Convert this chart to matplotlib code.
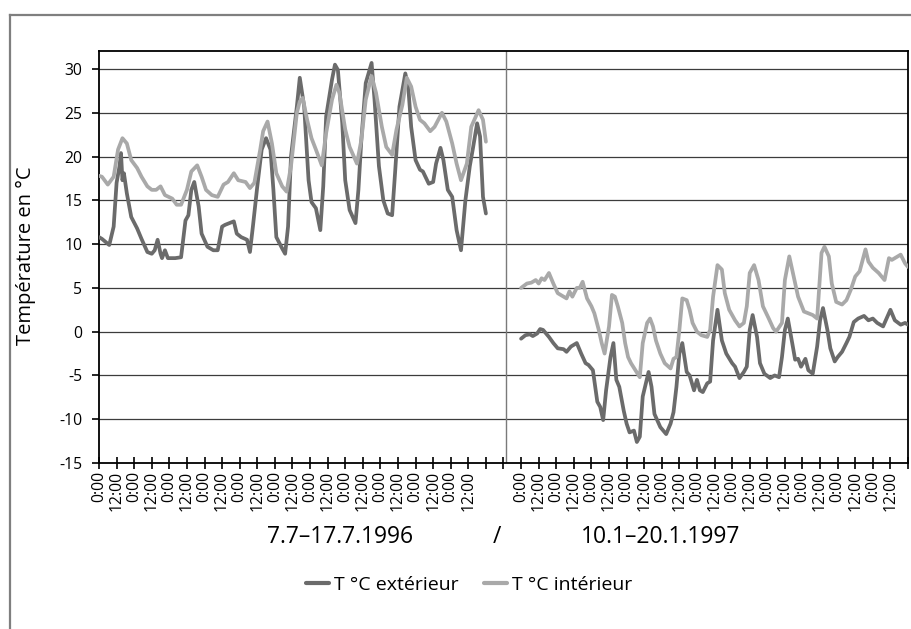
import numpy as np
import matplotlib
matplotlib.use("Agg")
import matplotlib.pyplot as plt
from matplotlib.lines import Line2D

plt.rcParams['font.family'] = ['Open Sans', 'DejaVu Sans']

# hours counted from 7.7.1996 0:00 on a continuous axis (1997 block starts at hour 288)
h_ext_96 = [0, 2, 7, 10, 12, 14, 15, 16, 17, 19, 22, 26, 29, 33, 36, 38, 40, 42, 43, 45,
            47, 52, 56, 59, 61, 63, 65, 68, 70, 74, 78, 81, 84, 86, 89, 92, 94, 97, 101, 103,
            105, 108, 111, 114, 117, 119, 121, 125, 127, 129, 131, 135, 137, 140, 143, 145, 148, 151, 153, 155,
            159, 161, 163, 166, 168, 171, 175, 177, 179, 182, 186, 188, 191, 194, 197, 200, 202, 205, 209, 211,
            213, 216, 219, 221, 225, 228, 230, 233, 235, 238, 241, 244, 247, 250, 253, 255, 258, 260, 262, 264]
t_ext_96 = [10.8, 10.6, 9.9, 12.0, 17.0, 18.9, 20.4, 17.3, 18.1, 15.8, 13.1, 11.8, 10.6, 9.1, 8.9, 9.3, 10.5, 8.9, 8.4, 9.3,
            8.4, 8.4, 8.5, 12.7, 13.3, 16.2, 17.1, 14.3, 11.2, 9.7, 9.3, 9.3, 12.0, 12.2, 12.4, 12.6, 11.2, 10.8, 10.5, 9.1,
            12.0, 16.6, 20.8, 22.1, 20.8, 16.2, 10.8, 9.5, 8.9, 12.0, 20.0, 25.7, 29.0, 25.7, 17.3, 14.8, 14.1, 11.6, 16.6, 24.6,
            28.8, 30.5, 29.9, 23.8, 17.3, 13.9, 12.4, 16.2, 21.9, 28.4, 30.7, 26.5, 18.9, 15.0, 13.5, 13.3, 18.1, 25.7, 29.5, 28.0,
            23.4, 19.6, 18.5, 18.3, 16.9, 17.1, 19.2, 21.0, 19.6, 16.2, 15.4, 11.6, 9.3, 15.0, 18.9, 20.8, 23.8, 22.3, 15.4, 13.5]

h_int_96 = [0, 2, 6, 10, 13, 16, 19, 22, 26, 29, 33, 36, 39, 42, 45, 50, 53, 56, 60, 63,
            67, 70, 73, 77, 81, 85, 88, 92, 95, 100, 103, 106, 110, 112, 115, 118, 121, 125, 128, 131,
            135, 137, 139, 142, 145, 148, 152, 155, 159, 162, 164, 168, 171, 176, 179, 182, 186, 189, 193, 196,
            200, 203, 207, 210, 213, 216, 219, 222, 226, 229, 234, 237, 241, 244, 247, 251, 254, 259, 262, 264]
t_int_96 = [17.8, 17.7, 16.8, 17.7, 20.8, 22.1, 21.5, 19.6, 18.7, 17.7, 16.6, 16.2, 16.2, 16.6, 15.6, 15.2, 14.5, 14.5, 16.2, 18.3,
            19.0, 17.7, 16.2, 15.6, 15.4, 16.8, 17.1, 18.1, 17.3, 17.1, 16.4, 17.0, 20.8, 22.9, 24.0, 21.5, 18.1, 16.6, 16.0, 18.9,
            25.0, 26.3, 26.7, 24.2, 22.1, 20.8, 19.0, 22.7, 26.5, 28.2, 27.3, 23.1, 21.1, 19.2, 21.9, 26.5, 29.2, 27.3, 23.4, 21.1,
            20.2, 23.1, 25.9, 29.0, 28.0, 25.7, 24.2, 23.8, 22.9, 23.4, 25.0, 24.0, 21.5, 19.2, 17.3, 19.2, 23.4, 25.3, 24.2, 21.7]

h_ext_97 = [288, 291, 294, 296, 299, 301, 303, 307, 310, 313, 317, 319, 322, 326, 329, 332, 334, 337, 340, 342,
            344, 346, 349, 351, 353, 355, 358, 360, 362, 365, 367, 369, 371, 375, 377, 379, 383, 387, 390, 392,
            394, 396, 398, 401, 403, 406, 408, 410, 412, 415, 417, 419, 422, 425, 428, 432, 434, 437, 440, 442,
            444, 446, 449, 451, 454, 458, 461, 464, 466, 468, 470, 473, 475, 477, 479, 482, 484, 487, 490, 492,
            494, 497, 499, 502, 504, 507, 510, 512, 515, 518, 522, 525, 528, 531, 535, 540, 543, 547, 550, 552]
t_ext_97 = [-0.8, -0.4, -0.3, -0.5, -0.2, 0.3, 0.2, -0.6, -1.3, -1.9, -2.0, -2.3, -1.7, -1.3, -2.5, -3.6, -3.8, -4.4, -8.0, -8.6,
            -10.1, -6.7, -2.9, -1.3, -5.5, -6.3, -9.0, -10.5, -11.5, -11.3, -12.6, -12.0, -7.4, -4.6, -6.3, -9.4, -10.9, -11.7, -10.5, -9.2,
            -6.3, -2.5, -1.3, -4.6, -5.0, -6.7, -5.5, -6.7, -6.9, -5.9, -5.7, -1.0, 2.5, -1.0, -2.5, -3.6, -4.0, -5.3, -4.6, -4.0,
            0.2, 1.9, -0.6, -3.6, -4.8, -5.3, -5.0, -5.2, -2.9, 0.2, 1.5, -1.3, -3.2, -3.1, -4.0, -3.1, -4.4, -4.8, -1.7, 1.3,
            2.7, 0.2, -1.9, -3.4, -2.9, -2.3, -1.3, -0.6, 1.1, 1.5, 1.8, 1.3, 1.5, 1.0, 0.6, 2.5, 1.3, 0.8, 1.0, 0.8]

h_int_97 = [288, 292, 295, 298, 300, 302, 304, 307, 310, 313, 317, 319, 321, 323, 326, 328, 330, 333, 336, 338,
            341, 343, 345, 348, 350, 352, 354, 357, 359, 361, 363, 366, 369, 371, 374, 376, 378, 380, 383, 386,
            390, 392, 394, 396, 398, 401, 403, 405, 408, 411, 415, 417, 419, 422, 425, 427, 430, 434, 437, 440,
            442, 444, 447, 450, 453, 457, 460, 462, 466, 468, 471, 474, 477, 481, 484, 487, 490, 491, 493, 495,
            498, 500, 503, 507, 510, 513, 516, 519, 523, 525, 528, 532, 536, 539, 541, 543, 547, 550, 552]
t_int_97 = [5.0, 5.5, 5.6, 5.9, 5.5, 6.1, 5.9, 6.7, 5.5, 4.4, 4.0, 3.8, 4.6, 4.0, 5.0, 5.0, 5.7, 3.8, 2.9, 2.1,
            0.2, -1.3, -2.5, 0.6, 4.2, 4.0, 2.9, 1.0, -1.3, -2.9, -3.6, -4.4, -5.2, -1.3, 1.0, 1.5, 0.6, -1.0, -2.5, -3.6,
            -4.2, -3.1, -2.9, 0.2, 3.8, 3.6, 2.5, 1.0, 0.0, -0.4, -0.6, 0.2, 4.0, 7.6, 7.1, 4.4, 2.5, 1.3, 0.6, 1.0,
            2.9, 6.7, 7.6, 5.9, 2.9, 1.5, 0.4, 0.0, 1.0, 5.9, 8.6, 6.3, 4.0, 2.3, 2.1, 1.9, 1.5, 4.0, 9.0, 9.7,
            8.6, 5.5, 3.4, 3.1, 3.6, 4.8, 6.3, 6.9, 9.4, 8.0, 7.3, 6.7, 5.9, 8.4, 8.2, 8.4, 8.8, 7.8, 7.4]

period_labels = ['7.7\u201317.7.1996', '/', '10.1\u201320.1.1997']
series_names = ['T °C extérieur', 'T °C intérieur']
col_ext = '#6b6b6b'
col_int = '#a9a9a9'

W, H = 912, 629
fig = plt.figure(figsize=(W / 100, H / 100), dpi=100)
ax = fig.add_axes([99 / W, (H - 463) / H, (908 - 99) / W, (463 - 51) / H])

# horizontal grid
for y in range(-10, 31, 5):
    ax.axhline(y, color='#3c3c3c', lw=0.9, zorder=1)
# separation between the two measuring periods
ax.axvline(277.5, color='#7a7a7a', lw=1.0, zorder=1)

kw = dict(lw=2.7, solid_joinstyle='round', solid_capstyle='round', zorder=3)
l_ext, = ax.plot(h_ext_96, t_ext_96, color=col_ext, **kw)
ax.plot(h_ext_97, t_ext_97, color=col_ext, **kw)
l_int, = ax.plot(h_int_96, t_int_96, color=col_int, **kw)
ax.plot(h_int_97, t_int_97, color=col_int, **kw)

ax.set_xlim(0, 552)
ax.set_ylim(-15, 32.06)
ax.set_yticks(range(-15, 31, 5))
ax.set_yticklabels([str(v) for v in range(-15, 31, 5)])

ticks = list(range(0, 553, 12))
labels = []
for t in ticks:
    if t < 264 or 288 <= t < 552:
        labels.append('0:00' if t % 24 == 0 else '12:00')
    else:
        labels.append('')
ax.set_xticks(ticks)
ax.set_xticklabels(labels, rotation=90, va='top', ha='center')

ax.tick_params(axis='y', direction='out', length=5, width=1.2, pad=7, labelsize=11.3, colors='black')
ax.tick_params(axis='x', direction='inout', length=8, width=1.2, pad=2, labelsize=11.3, colors='black')
for s in ax.spines.values():
    s.set_color('black')
    s.set_linewidth(1.3)

ax.set_ylabel('Température en °C', fontsize=14.5, labelpad=12)
ax.yaxis.set_label_coords((36 - 99) / (908 - 99), (463 - 256) / (463 - 51))

# period captions under the axis
fig.text(340 / W, 1 - 537 / H, period_labels[0], fontsize=16.5, ha='center', va='center')
fig.text(497 / W, 1 - 537 / H, period_labels[1], fontsize=16.5, ha='center', va='center')
fig.text(661 / W, 1 - 537 / H, period_labels[2], fontsize=16.5, ha='center', va='center')

leg = fig.legend([l_ext, l_int], series_names, loc='center', bbox_to_anchor=(469 / W, 1 - 585 / H),
                 ncol=2, frameon=False, fontsize=14, handlelength=1.2, handletextpad=0.25,
                 columnspacing=1.3)
for lh in leg.get_lines():
    lh.set_linewidth(3.0)

# chart border
fig.add_artist(Line2D([10 / W, 10 / W], [0, 1 - 15 / H], color='#7f7f7f', lw=1.6))
fig.add_artist(Line2D([10 / W, 1], [1 - 15 / H, 1 - 15 / H], color='#7f7f7f', lw=1.6))

fig.savefig('out.png', dpi=100)
